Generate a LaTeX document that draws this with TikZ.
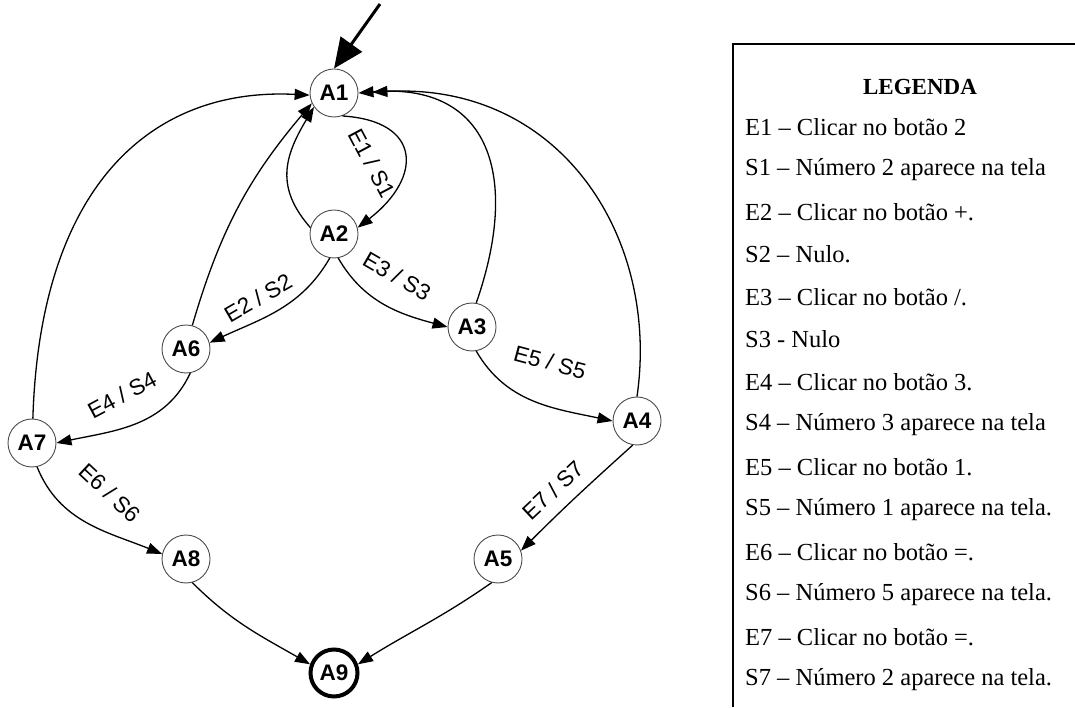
\documentclass[tikz,border=0pt]{standalone}
\usepackage{fontspec}
\setmainfont{Liberation Serif}
\newfontfamily\arialf{Liberation Sans}
\usetikzlibrary{arrows.meta}
\begin{document}
\begin{tikzpicture}[x=1pt,y=1pt,
  state/.style={circle, draw=black!70, line width=0.9pt, minimum size=48pt, inner sep=0pt,
    font=\arialf\bfseries\fontsize{22.5}{22.5}\selectfont},
  final/.style={state, draw=black, line width=4pt, minimum size=47pt},
  edge/.style={line width=1.3pt, -{Triangle[length=15pt,width=11pt]}},
  lbl/.style={font=\arialf\fontsize{22.5}{22.5}\selectfont, inner sep=0pt},
  leg/.style={anchor=west, font=\fontsize{24.5}{24.5}\selectfont, inner sep=0pt}]
\useasboundingbox (0,0) rectangle (1075,707);

% states
\node[state] (A1) at (334,614) {A1};
\node[state] (A2) at (334,473) {A2};
\node[state] (A3) at (472,380) {A3};
\node[state] (A4) at (637,286) {A4};
\node[state] (A5) at (498,148) {A5};
\node[state] (A6) at (186,358) {A6};
\node[state] (A7) at (32,264) {A7};
\node[state] (A8) at (186,148) {A8};
\node[final] (A9) at (334,34) {A9};

% initial arrow
\coordinate (st) at (380,703);
\draw[line width=3pt, -{Triangle[length=30pt,width=26pt]}] (st) -- (A1.north);

% transitions
\draw[edge] (A1.-70) .. controls +(80,-5) and +(65,50) .. (A2.15);
\draw[edge] (A2.165) .. controls +(-35,40) and +(-30,-50) .. (A1.215);
\draw[edge] (A6.75) to[bend left=12] (A1.205);
\draw[edge] (A7.88) .. controls +(7,231) and +(-160,8) .. (A1.185);
\draw[edge] (A3.80) .. controls +(44,126) and +(132,11) .. (A1.east);
\draw[edge, shorten >=14pt] (A4.90) .. controls +(23,159) and +(202,11) .. (A1.east);

\draw[edge] (A2.-100) to[out=-120, in=25] (A6.15);
\draw[edge] (A2.-80) to[out=-60, in=165] (A3.west);
\draw[edge] (A3.-80) to[out=-60, in=168] (A4.west);
\draw[edge] (A6.-80) to[out=-115, in=12] (A7.east);
\draw[edge] (A7.-78) to[out=-68, in=158] (A8.168);
\draw[edge] (A4.-100) to[out=-138, in=45] (A5.20);
\draw[edge] (A8.-75) to[out=-45, in=150] (A9.160);
\draw[edge] (A5.-105) to[out=-145, in=32] (A9.20);

% labels
\node[lbl, rotate=-62] (l1) at (372,544) {E1 / S1};
\node[lbl, rotate=30] (l2) at (258,409) {E2 / S2};
\node[lbl, rotate=-30] (l3) at (397,431) {E3 / S3};
\node[lbl, rotate=28] (l4) at (122,312) {E4 / S4};
\node[lbl, rotate=-15] (l5) at (550,345) {E5 / S5};
\node[lbl, rotate=-43] (l6) at (110,214) {E6 / S6};
\node[lbl, rotate=43] (l7) at (553,217) {E7 / S7};

% legend
\draw[line width=2pt] (733,0) -- (733,663) -- (1075,663);
\node[font=\bfseries\fontsize{23}{23}\selectfont, inner sep=0pt] (lgt) at (920,620) {LEGENDA};
\node[leg] (g1) at (745,580) {E1 – Clicar no botão 2};
\node[leg] (g2) at (745,537.5) {S1 – Número 2 aparece na tela};
\node[leg] (g3) at (745,495) {E2 – Clicar no botão +.};
\node[leg] (g4) at (745,452.5) {S2 – Nulo.};
\node[leg] (g5) at (745,410) {E3 – Clicar no botão /.};
\node[leg] (g6) at (745,367.5) {S3 - Nulo};
\node[leg] (g7) at (745,325) {E4 – Clicar no botão 3.};
\node[leg] (g8) at (745,282.5) {S4 – Número 3 aparece na tela};
\node[leg] (g9) at (745,240) {E5 – Clicar no botão 1.};
\node[leg] (g10) at (745,197.5) {S5 – Número 1 aparece na tela.};
\node[leg] (g11) at (745,155) {E6 – Clicar no botão =.};
\node[leg] (g12) at (745,112.5) {S6 – Número 5 aparece na tela.};
\node[leg] (g13) at (745,70) {E7 – Clicar no botão =.};
\node[leg] (g14) at (745,27.5) {S7 – Número 2 aparece na tela.};
\end{tikzpicture}
\end{document}
